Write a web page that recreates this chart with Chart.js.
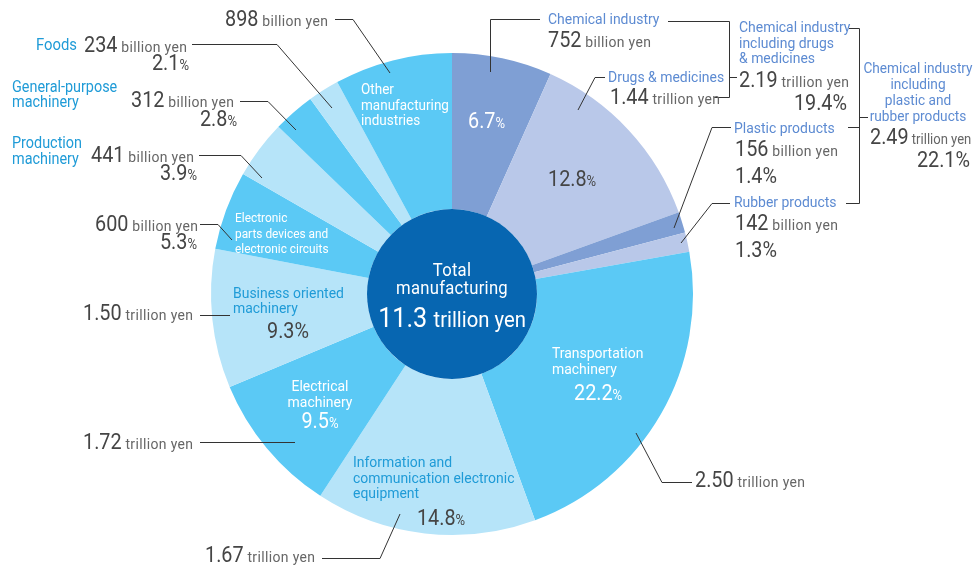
<!DOCTYPE html>
<html>
<head>
<meta charset="utf-8">
<script src="https://cdn.jsdelivr.net/npm/chart.js@4/dist/chart.umd.min.js"></script>
<style>
  html, body { margin: 0; padding: 0; background: #fff; }
  #wrap { width: 973px; height: 567px; }
</style>
</head>
<body>
<div id="wrap"><canvas id="pie" width="973" height="567"></canvas></div>
<script>
// slices, clockwise from 12 o'clock
var categories = ["Chemical industry", "Drugs & medicines", "Plastic products", "Rubber products",
  "Transportation machinery", "Information and communication electronic equipment",
  "Electrical machinery", "Business oriented machinery",
  "Electronic parts devices and electronic circuits", "Production machinery",
  "General-purpose machinery", "Foods", "Other manufacturing industries"];
var shares = [6.7, 12.8, 1.4, 1.3, 22.2, 14.8, 9.5, 9.3, 5.3, 3.9, 2.8, 2.1, 7.9];
var amounts = ["752", "1.44", "156", "142", "2.50", "1.67", "1.72", "1.50", "600", "441", "312", "234", "898"];
var units = ["billion yen", "trillion yen", "billion yen", "billion yen", "trillion yen", "trillion yen",
  "trillion yen", "trillion yen", "billion yen", "billion yen", "billion yen", "billion yen", "billion yen"];
var sliceColors = ["#7f9fd4", "#b9c8e9", "#7f9fd4", "#b9c8e9", "#5bc9f5", "#b6e4f9", "#5bc9f5",
  "#b6e4f9", "#5bc9f5", "#b6e4f9", "#5bc9f5", "#b6e4f9", "#5bc9f5"];

// subtotals shown with brackets
var groupNames = ["Chemical industry including drugs & medicines", "Chemical industry including plastic and rubber products"];
var groupAmounts = ["2.19", "2.49"];
var groupShares = [19.4, 22.1];
var totalAmount = "11.3";

// no condensed face installed, so squeeze Roboto horizontally
var FONT = 'Roboto, "Liberation Sans", sans-serif';
var SX = 0.9;
var DARK = "#454545", GREY = "#666666", BLUE = "#1f9bd7", CHEM = "#5d8bd2", WHITE = "#ffffff";

function f(px) { return "normal " + px + "px " + FONT; }

// draw a run of text pieces on one baseline; piece = [text, font, colour, letterSpacing]
function run(ctx, parts, x, y, align) {
  var widths = parts.map(function (p) {
    ctx.font = p[1];
    ctx.letterSpacing = p[3] || "0px";
    return ctx.measureText(p[0]).width * SX;
  });
  var w = widths.reduce(function (a, b) { return a + b; }, 0);
  if (align === "right") x -= w;
  if (align === "center") x -= w / 2;
  ctx.textAlign = "left";
  ctx.textBaseline = "alphabetic";
  parts.forEach(function (p, i) {
    ctx.font = p[1];
    ctx.letterSpacing = p[3] || "0px";
    ctx.fillStyle = p[2];
    ctx.save();
    ctx.translate(x, y);
    ctx.scale(SX, 1);
    ctx.fillText(p[0], 0, 0);
    ctx.restore();
    x += widths[i];
  });
  ctx.letterSpacing = "0px";
}
function lines(ctx, arr, x, y, lh, size, color, align) {
  arr.forEach(function (t, i) { run(ctx, [[t, f(size), color]], x, y + i * lh, align); });
}
function path(ctx, pts) {
  ctx.beginPath();
  ctx.moveTo(pts[0][0], pts[0][1]);
  for (var i = 1; i < pts.length; i++) ctx.lineTo(pts[i][0], pts[i][1]);
  ctx.stroke();
}
function money(num, unit, sp, us) {
  return [[num, f(22), DARK], [" " + unit, f(us || 15.5), GREY, sp || "0.4px"]];
}
function amt(i) { return money(amounts[i], units[i]); }
function pct(v, color) {
  return [[v.toFixed(1), f(22), color], ["%", f(14.5), color]];
}

var annotations = {
  id: "annotations",
  afterDatasetsDraw: function (chart) {
    var ctx = chart.ctx;
    var arc = chart.getDatasetMeta(0).data[0];
    ctx.save();
    // centre disc
    ctx.fillStyle = "#0766b1";
    ctx.beginPath();
    ctx.arc(arc.x, arc.y, arc.innerRadius, 0, Math.PI * 2);
    ctx.fill();
    run(ctx, [["Total", f(18.5), WHITE, "0.3px"]], arc.x, arc.y - 18, "center");
    run(ctx, [["manufacturing", f(18.5), WHITE, "0.3px"]], arc.x, arc.y, "center");
    run(ctx, [[totalAmount + " ", f(28), WHITE], ["trillion yen", f(22.5), WHITE]], arc.x, arc.y + 33, "center");

    // leader lines and brackets
    ctx.strokeStyle = "#333";
    ctx.lineWidth = 1;
    [
      [[335, 19.5], [353, 19.5], [390, 73]],
      [[192, 44.5], [277, 44.5], [332, 108]],
      [[240, 101.5], [268, 101.5], [296, 130]],
      [[199, 155.5], [241, 155.5], [262, 178]],
      [[200, 224.5], [218, 224.5], [232, 240]],
      [[200, 315.5], [230, 315.5]],
      [[200, 442.5], [295, 442.5]],
      [[322, 558.5], [380, 558.5], [400, 514]],
      [[692, 482.5], [662, 482.5], [636, 433]],
      [[540, 19.5], [490.5, 19.5], [490.5, 72]],
      [[605, 77.5], [595, 77.5], [578, 110]],
      [[731, 127.5], [712, 127.5], [674, 228]],
      [[730, 203.5], [712, 203.5], [681, 243]],
      [[668, 21.5], [729.5, 21.5], [729.5, 97.5], [714, 97.5]],
      [[729.5, 77.5], [737, 77.5]],
      [[849, 28.5], [859.5, 28.5], [859.5, 203.5], [846, 203.5]],
      [[848, 127.5], [859.5, 127.5]],
      [[859.5, 117.5], [868, 117.5]]
    ].forEach(function (p) { path(ctx, p); });

    // left side
    run(ctx, amt(12), 225, 26);
    lines(ctx, ["Foods"], 36, 50, 16, 16.5, BLUE);
    run(ctx, amt(11), 84, 52);
    run(ctx, pct(shares[11], DARK), 189, 70, "right");
    lines(ctx, ["General-purpose", "machinery"], 12, 92, 15, 16, BLUE);
    run(ctx, amt(10), 131, 107);
    run(ctx, pct(shares[10], DARK), 237, 126, "right");
    lines(ctx, ["Production", "machinery"], 12, 148, 16, 16, BLUE);
    run(ctx, amt(9), 91, 162);
    run(ctx, pct(shares[9], DARK), 197, 180, "right");
    run(ctx, amt(8), 95, 231);
    run(ctx, pct(shares[8], DARK), 197, 249, "right");
    lines(ctx, ["Electronic", "parts devices and", "electronic circuits"], 235, 222, 15.5, 13.2, WHITE);
    run(ctx, amt(7), 83, 320);
    lines(ctx, ["Business oriented", "machinery"], 233, 298, 15, 15.5, BLUE);
    run(ctx, [[shares[7].toFixed(1) + "%", f(22), DARK]], 288, 338, "center");
    run(ctx, amt(6), 83, 449);
    lines(ctx, ["Electrical", "machinery"], 320, 391, 15.5, 15.5, WHITE, "center");
    run(ctx, pct(shares[6], WHITE), 320, 428, "center");
    lines(ctx, ["Information and", "communication electronic", "equipment"], 353, 467, 15.5, 15.5, BLUE);
    run(ctx, pct(shares[5], DARK), 441, 525, "center");
    run(ctx, amt(5), 205, 562);

    // right side
    lines(ctx, ["Transportation", "machinery"], 552, 358, 15.5, 15.5, WHITE);
    run(ctx, pct(shares[4], WHITE), 574, 400);
    run(ctx, amt(4), 695, 487);
    lines(ctx, ["Other", "manufacturing", "industries"], 361, 94, 15.5, 15, WHITE);
    run(ctx, pct(shares[0], WHITE), 468, 128);
    run(ctx, pct(shares[1], DARK), 548, 186);
    lines(ctx, [categories[0]], 548, 24, 16, 15.5, CHEM);
    run(ctx, amt(0), 548, 47);
    lines(ctx, [categories[1]], 608, 82, 16, 15.5, CHEM);
    run(ctx, amt(1), 610, 104);
    lines(ctx, ["Chemical industry", "including drugs", "& medicines"], 739, 32, 15.5, 15.5, CHEM);
    run(ctx, money(groupAmounts[0], "trillion yen"), 739, 87);
    run(ctx, [[groupShares[0].toFixed(1) + "%", f(22), DARK]], 847, 110, "right");
    lines(ctx, ["Chemical industry", "including", "plastic and", "rubber products"], 918, 73, 16, 15.2, CHEM, "center");
    run(ctx, money(groupAmounts[1], "trillion yen", "0px", 14.5), 870, 144);
    run(ctx, [[groupShares[1].toFixed(1) + "%", f(22), DARK]], 970, 167, "right");
    lines(ctx, [categories[2]], 734, 133, 16, 15.5, CHEM);
    run(ctx, amt(2), 735, 156);
    run(ctx, [[shares[2].toFixed(1) + "%", f(22), DARK]], 735, 183);
    lines(ctx, [categories[3]], 734, 207, 16, 15.5, CHEM);
    run(ctx, amt(3), 735, 230);
    run(ctx, [[shares[3].toFixed(1) + "%", f(22), DARK]], 735, 257);
    ctx.restore();
  }
};

var pie = new Chart(document.getElementById("pie").getContext("2d"), {
  type: "doughnut",
  data: {
    labels: categories,
    datasets: [{
      data: shares,
      backgroundColor: sliceColors,
      borderWidth: 0
    }]
  },
  options: {
    responsive: false,
    animation: false,
    cutout: 85,
    layout: { padding: { left: 211, right: 280, top: 53, bottom: 32 } },
    plugins: { legend: { display: false }, tooltip: { enabled: false } }
  },
  plugins: [annotations]
});
</script>
</body>
</html>
